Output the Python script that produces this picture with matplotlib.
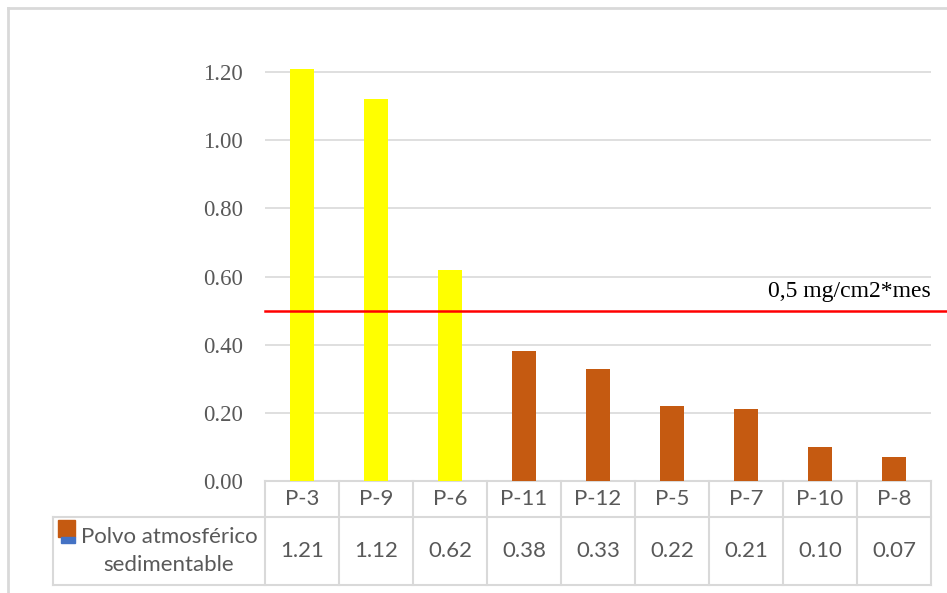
import matplotlib
import matplotlib.pyplot as plt
from matplotlib.transforms import blended_transform_factory
from matplotlib.patches import Rectangle
from matplotlib.lines import Line2D

matplotlib.use("Agg")

# polvo atmosferico sedimentable por punto de muestreo (mg/cm2*mes)
puntos = ["P-3", "P-9", "P-6", "P-11", "P-12", "P-5", "P-7", "P-10", "P-8"]
valores = [1.21, 1.12, 0.62, 0.38, 0.33, 0.22, 0.21, 0.10, 0.07]
limite = 0.5
limite_txt = "0,5 mg/cm2*mes"
serie = "Polvo atmosférico\nsedimentable"
yticks = [0.0, 0.2, 0.4, 0.6, 0.8, 1.0, 1.2]

AMARILLO = "#FFFF00"
NARANJA = "#C55A11"
GRIS = "#D9D9D9"
TEXTO = "#595959"

W, H = 947, 593
fig = plt.figure(figsize=(W / 100, H / 100), dpi=100)
ax = fig.add_axes([265 / W, (H - 481) / H, 666 / W, 426 / H])

colores = [AMARILLO if v > limite else NARANJA for v in valores]
x = list(range(len(puntos)))
ax.bar(x, valores, width=0.33, color=colores, zorder=3)

ax.set_xlim(-0.5, len(puntos) - 0.5)
ax.set_ylim(0, 1.25)
ax.set_yticks(yticks)
ax.set_yticklabels([f"{t:.2f}" for t in yticks], family="Liberation Serif",
                   fontsize=16.5, color=TEXTO)
ax.tick_params(axis="y", length=0, pad=16)
ax.set_xticks([])
for s in ax.spines.values():
    s.set_visible(False)
for t in yticks[1:]:
    ax.axhline(t, color=GRIS, lw=1.2, zorder=1)

# linea del limite, sale del area de trazado hasta el borde derecho
ax.axhline(limite, xmin=0, xmax=(W - 265) / 666, color="red", lw=1.8,
           clip_on=False, zorder=4)
ax.text(8.5, limite + 0.025, limite_txt, family="Liberation Serif",
        fontsize=17, color="black", ha="right", va="bottom")

# tabla de datos debajo del eje
tr = blended_transform_factory(ax.transData, ax.transAxes)
y_head = -36 / 426
y_bot = -104 / 426
x_izq = -0.5 - 212 / 74
x_der = len(puntos) - 0.5
kw = dict(color=GRIS, lw=1.5, transform=tr, clip_on=False)
ax.add_line(Line2D([-0.5, x_der], [0, 0], **kw))
ax.add_line(Line2D([x_izq, x_der], [y_head, y_head], **kw))
ax.add_line(Line2D([x_izq, x_der], [y_bot, y_bot], **kw))
ax.add_line(Line2D([x_izq, x_izq], [y_head, y_bot], **kw))
for i in range(len(puntos) + 1):
    ax.add_line(Line2D([i - 0.5, i - 0.5], [0, y_bot], **kw))

for i, (p, v) in enumerate(zip(puntos, valores)):
    ax.text(i, y_head / 2, p, transform=tr, ha="center", va="center",
            family="Lato", fontsize=16, color=TEXTO)
    ax.text(i, (y_head + y_bot) / 2, f"{v:.2f}", transform=tr, ha="center",
            va="center", family="Lato", fontsize=16, color=TEXTO)

# clave de la serie
ax.add_patch(Rectangle((x_izq + 5 / 74, y_head - 20 / 426), 17 / 74, 17 / 426,
                       transform=tr, color=NARANJA, clip_on=False))
ax.add_patch(Rectangle((x_izq + 8 / 74, y_head - 26 / 426), 14 / 74, 6 / 426,
                       transform=tr, color="#4472C4", clip_on=False))
ax.text(x_izq + 116 / 74, (y_head + y_bot) / 2, serie, transform=tr,
        ha="center", va="center", family="Lato", fontsize=16, color=TEXTO,
        linespacing=1.5)

# borde del area del grafico
fig.add_artist(Line2D([8 / W, 1], [1 - 8 / H, 1 - 8 / H], color=GRIS, lw=2,
                      transform=fig.transFigure))
fig.add_artist(Line2D([8 / W, 8 / W], [0, 1 - 8 / H], color=GRIS, lw=2,
                      transform=fig.transFigure))

fig.savefig("out.png", dpi=100)
